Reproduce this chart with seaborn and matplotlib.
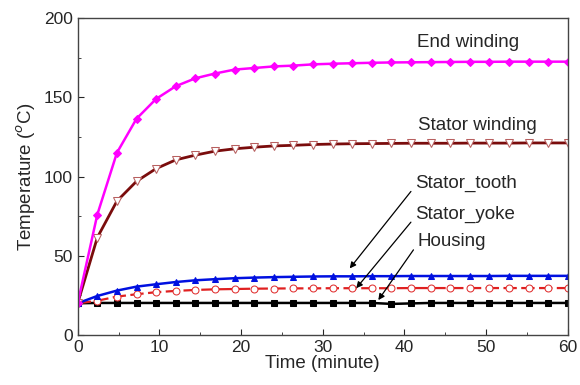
import matplotlib
matplotlib.use("Agg")
import matplotlib.pyplot as plt
import seaborn as sns
from matplotlib.ticker import MultipleLocator

sns.set_style("ticks")
plt.rcParams["font.family"] = ["Liberation Sans", "DejaVu Sans"]

# time in minutes (marker positions)
time_min = [0, 2.4, 4.8, 7.2, 9.6, 12, 14.4, 16.8, 19.2, 21.6, 24, 26.4, 28.8,
            31.2, 33.6, 36, 38.4, 40.8, 43.2, 45.6, 48, 50.4, 52.8, 55.2, 57.6, 60]

end_winding = [20, 76, 115, 136.5, 149, 157, 162, 165, 167.5, 168.5, 169.5, 170,
               170.8, 171.2, 171.5, 171.8, 172, 172.1, 172.2, 172.3, 172.4, 172.4,
               172.5, 172.5, 172.5, 172.5]
stator_winding = [20, 61.5, 84.5, 97, 105, 110.5, 113.5, 116, 117.5, 118.5, 119.3,
                  119.7, 120.2, 120.5, 120.7, 120.8, 120.9, 121, 121, 121, 121.1,
                  121.1, 121.1, 121.2, 121.2, 121.2]
stator_tooth = [20, 24.6, 28, 30.5, 32, 33.4, 34.5, 35.2, 35.8, 36.2, 36.5, 36.7,
                36.9, 37, 37, 37.1, 37.1, 37.2, 37.2, 37.2, 37.2, 37.2, 37.3, 37.3,
                37.3, 37.3]
stator_yoke = [20, 21.6, 24.2, 25.7, 27, 27.8, 28.4, 28.8, 29, 29.2, 29.3, 29.4,
               29.4, 29.5, 29.5, 29.5, 29.5, 29.6, 29.6, 29.6, 29.6, 29.6, 29.6,
               29.6, 29.6, 29.6]
housing = [20, 20.2, 20.2, 20.2, 20.2, 20.2, 20.2, 20.2, 20.2, 20.2, 20.2, 20.2,
           20.2, 20.2, 20.2, 20.2, 19.6, 19.9, 20.2, 20.2, 20.2, 20.2, 20.2, 20.2,
           20.2, 20.2]

fig = plt.figure(figsize=(5.8, 3.85), dpi=100)
ax = fig.add_axes([0.134, 0.13, 0.845, 0.823])

sns.lineplot(x=time_min, y=housing, ax=ax, color="black", lw=1.8,
             marker="s", markersize=4.5, markeredgecolor="black")
sns.lineplot(x=time_min, y=stator_yoke, ax=ax, color="#e02020", lw=1.6,
             linestyle=(0, (6, 2)), marker="o", markersize=5,
             markerfacecolor="white", markeredgecolor="#e03030")
sns.lineplot(x=time_min, y=stator_tooth, ax=ax, color="#0010e0", lw=1.8,
             marker="^", markersize=5, markeredgecolor="#0010e0")
sns.lineplot(x=time_min, y=stator_winding, ax=ax, color="#7a0c0c", lw=2.0,
             marker="v", markersize=5.5, markerfacecolor="white",
             markeredgecolor="#b86060")
sns.lineplot(x=time_min, y=end_winding, ax=ax, color="#ff00ff", lw=1.8,
             marker="D", markersize=4.5, markeredgecolor="#ff00ff")

ax.set_xlim(0, 60)
ax.set_ylim(0, 200)
ax.xaxis.set_major_locator(MultipleLocator(10))
ax.xaxis.set_minor_locator(MultipleLocator(5))
ax.yaxis.set_major_locator(MultipleLocator(50))
ax.yaxis.set_minor_locator(MultipleLocator(25))
ax.tick_params(which="both", direction="in", top=False, right=False, labelsize=12.5)
ax.tick_params(which="major", length=4)
ax.tick_params(which="minor", length=2.5)
for sp in ax.spines.values():
    sp.set_color("#444444")
    sp.set_linewidth(1.0)

ax.set_xlabel("Time (minute)", fontsize=13.5, labelpad=0)
ax.set_ylabel("Temperature ($^{o}$C)", fontsize=13.5, labelpad=4)

ax.text(41.5, 184.5, "End winding", fontsize=13.5, va="center")
ax.text(41.7, 132.5, "Stator winding", fontsize=13.5, va="center")

arrow = dict(arrowstyle="-|>", color="black", lw=0.9, mutation_scale=9,
             relpos=(0, 0.35), shrinkA=1, shrinkB=0)
ax.annotate("Stator_tooth", xy=(33.3, 42), xytext=(41.3, 95.5), fontsize=13.5,
            va="center", arrowprops=arrow)
ax.annotate("Stator_yoke", xy=(34.1, 29.5), xytext=(41.3, 76), fontsize=13.5,
            va="center", arrowprops=arrow)
ax.annotate("Housing", xy=(36.8, 22), xytext=(41.6, 59), fontsize=13.5,
            va="center", arrowprops=arrow)

fig.savefig("out.png", dpi=100)
